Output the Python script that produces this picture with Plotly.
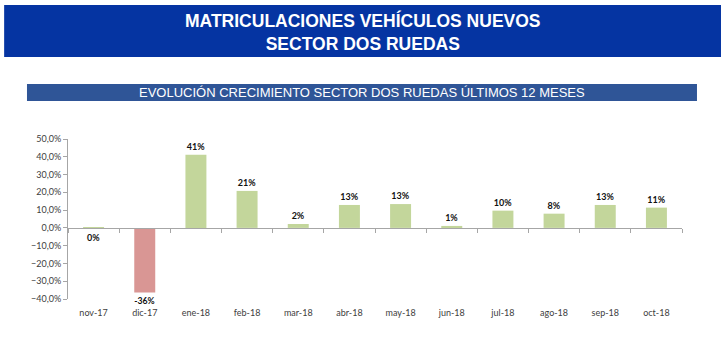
import plotly.graph_objects as go

categories = ["nov-17", "dic-17", "ene-18", "feb-18", "mar-18", "abr-18",
              "may-18", "jun-18", "jul-18", "ago-18", "sep-18", "oct-18"]
growth = [-0.002, -0.363, 0.412, 0.208, 0.022, 0.129,
          0.134, 0.011, 0.097, 0.080, 0.129, 0.114]
y_ticks = [-0.4, -0.3, -0.2, -0.1, 0.0, 0.1, 0.2, 0.3, 0.4, 0.5]
y_min, y_max = -0.4, 0.5

GREEN = "#C3D69B"
RED = "#D99694"
colors = [RED if v < -0.05 else GREEN for v in growth]
labels = [f"{round(v * 100)}%" for v in growth]

fig = go.Figure()
fig.add_trace(go.Bar(
    x=categories, y=growth, marker_color=colors, marker_line_width=0,
    width=0.41, text=labels, textposition="outside", cliponaxis=False,
    textfont=dict(family="Lato, Liberation Sans, sans-serif", size=9, color="#111111"),
    texttemplate="<b>%{text}</b>", hoverinfo="skip", showlegend=False,
))

zero_pos = (0 - y_min) / (y_max - y_min)

fig.update_layout(
    width=726, height=346,
    margin=dict(l=68, r=44, t=139, b=47),
    paper_bgcolor="white", plot_bgcolor="white",
    separators=",.",
    xaxis=dict(
        type="category", categoryorder="array", categoryarray=categories,
        anchor="free", position=zero_pos,
        showline=True, linecolor="#A6A6A6", linewidth=1,
        ticks="outside", tickson="boundaries", ticklen=4, tickcolor="#A6A6A6",
        showgrid=False, zeroline=False,
        tickfont=dict(family="Lato, Liberation Sans, sans-serif", size=9, color="#404040"),
        ticklabelstandoff=76,
    ),
    yaxis=dict(
        range=[y_min, y_max], tickvals=y_ticks, tickformat=".1%",
        showline=True, linecolor="#A6A6A6", linewidth=1,
        ticks="outside", ticklen=4, tickcolor="#A6A6A6",
        showgrid=False, zeroline=False,
        tickfont=dict(family="Lato, Liberation Sans, sans-serif", size=9, color="#404040"),
    ),
    shapes=[
        dict(type="rect", xref="paper", yref="paper",
             x0=-0.104, x1=1.0635, y0=1.5125, y1=1.8375,
             fillcolor="#0534A2", line_width=0, layer="below"),
        dict(type="rect", xref="paper", yref="paper",
             x0=-0.0668, x1=1.0244, y0=1.2375, y1=1.34375,
             fillcolor="#2F5597", line_width=0, layer="below"),
    ],
    annotations=[
        dict(text="<b>MATRICULACIONES VEHÍCULOS NUEVOS</b><br><b>SECTOR DOS RUEDAS</b>",
             xref="paper", yref="paper", x=(363 - 68) / 614, y=(299 - 32) / 160,
             xanchor="center", yanchor="middle", showarrow=False,
             font=dict(family="Liberation Sans, Arial, sans-serif", size=17.5, color="white")),
        dict(text="EVOLUCIÓN CRECIMIENTO SECTOR DOS RUEDAS ÚLTIMOS 12 MESES",
             xref="paper", yref="paper", x=(362 - 68) / 614, y=(299 - 92.5) / 160,
             xanchor="center", yanchor="middle", showarrow=False,
             font=dict(family="Liberation Sans Narrow, Arial Narrow, Liberation Sans, sans-serif",
                       size=13, color="white")),
    ],
)

fig.write_html("out.html")
